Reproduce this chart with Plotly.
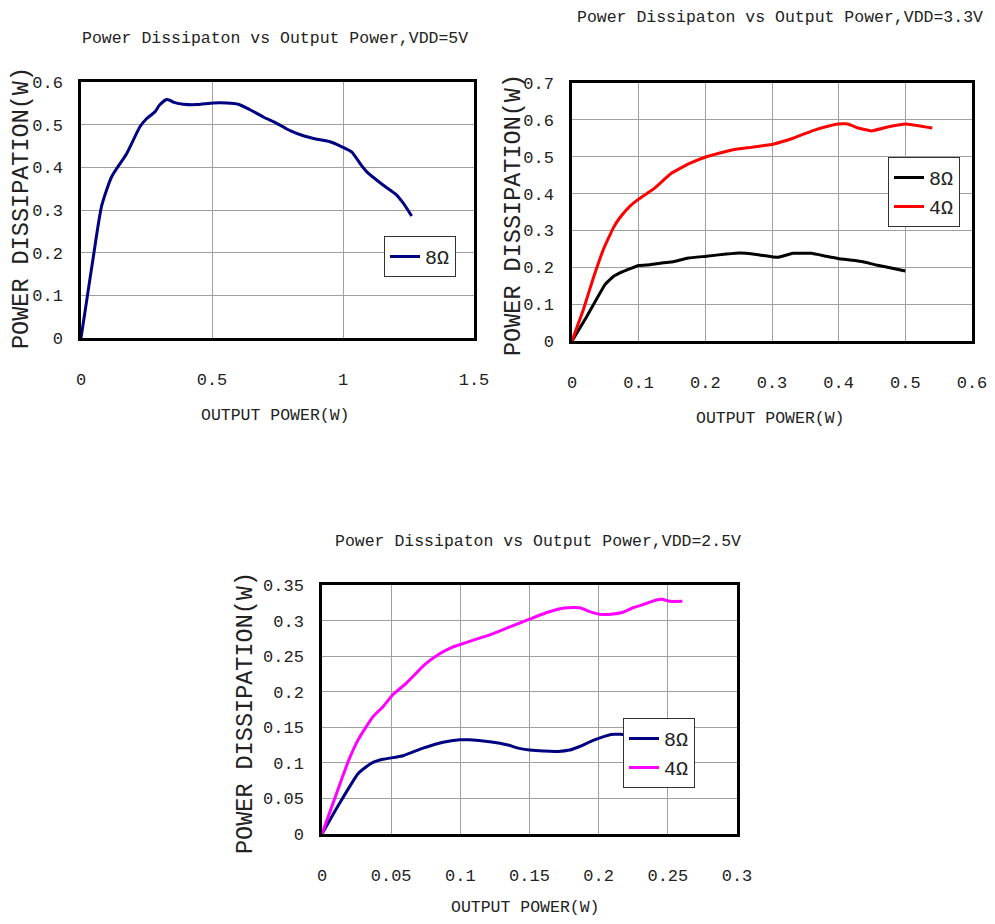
import plotly.graph_objects as go

# ---- Data: VDD = 5V ----
p1_8_x = [0, 0.024, 0.047, 0.079, 0.117, 0.174, 0.225, 0.25, 0.282, 0.30, 0.327, 0.34, 0.352, 0.39, 0.44,
          0.505, 0.556, 0.60, 0.645, 0.696, 0.747, 0.798, 0.849, 0.90, 0.95, 1.0, 1.033, 1.065, 1.09,
          1.154, 1.205, 1.23, 1.262]
p1_8_y = [0, 0.097, 0.19, 0.31, 0.378, 0.432, 0.495, 0.514, 0.53, 0.546, 0.559, 0.557, 0.553, 0.548, 0.547,
          0.551, 0.551, 0.548, 0.535, 0.518, 0.503, 0.486, 0.474, 0.466, 0.46, 0.447, 0.436, 0.409, 0.39,
          0.358, 0.335, 0.316, 0.286]

# ---- Data: VDD = 3.3V ----
p2_4_x = [0, 0.017, 0.032, 0.047, 0.062, 0.072, 0.087, 0.1, 0.122, 0.149, 0.1765, 0.2015, 0.2115, 0.2415,
          0.2715, 0.3015, 0.3315, 0.3615, 0.3865, 0.399, 0.414, 0.429, 0.449, 0.4765, 0.50, 0.5405]
p2_4_y = [0, 0.085, 0.171, 0.248, 0.307, 0.335, 0.366, 0.385, 0.412, 0.455, 0.482, 0.50, 0.505, 0.519,
          0.526, 0.534, 0.55, 0.571, 0.584, 0.589, 0.589, 0.578, 0.570, 0.582, 0.589, 0.578]
p2_8_x = [0, 0.022, 0.0495, 0.062, 0.077, 0.1, 0.117, 0.137, 0.152, 0.1745, 0.2015,
          0.2315, 0.2515, 0.2765, 0.3015, 0.3115, 0.3315, 0.359, 0.3815, 0.399, 0.4215, 0.4365, 0.4565,
          0.4715, 0.50]
p2_8_y = [0, 0.066, 0.153, 0.175, 0.189, 0.205, 0.207, 0.212, 0.215, 0.225, 0.230,
          0.236, 0.239, 0.235, 0.228, 0.228, 0.238, 0.238, 0.230, 0.224, 0.219, 0.215, 0.206,
          0.201, 0.19]

# ---- Data: VDD = 2.5V ----
p3_4_x = [0, 0.008, 0.014, 0.020, 0.026, 0.032, 0.0369, 0.0441, 0.0513, 0.061, 0.0742, 0.0839, 0.0935,
          0.0995, 0.1116, 0.1212, 0.1357, 0.150, 0.162, 0.1706, 0.1766, 0.1863, 0.1935, 0.2007, 0.209,
          0.2176, 0.2248, 0.2345, 0.2417, 0.2458, 0.2513, 0.2605]
p3_4_y = [0, 0.0435, 0.076, 0.107, 0.132, 0.151, 0.165, 0.179, 0.196, 0.212, 0.238, 0.252, 0.262,
          0.266, 0.274, 0.280, 0.291, 0.302, 0.311, 0.316, 0.318, 0.318, 0.3126, 0.309, 0.309,
          0.3117, 0.318, 0.324, 0.329, 0.330, 0.327, 0.327]
p3_8_x = [0, 0.0128, 0.026, 0.0296, 0.0369, 0.0441, 0.0586, 0.073, 0.0875, 0.0995, 0.1067, 0.1212,
          0.1345, 0.1417, 0.150, 0.160, 0.1706, 0.179, 0.1863, 0.196, 0.209, 0.2176, 0.225]
p3_8_y = [0, 0.0435, 0.0847, 0.091, 0.1006, 0.105, 0.110, 0.1207, 0.129, 0.1324, 0.1324, 0.1296,
          0.125, 0.1207, 0.118, 0.1165, 0.116, 0.118, 0.123, 0.1315, 0.140, 0.140, 0.140]

titles = ["Power Dissipaton vs Output Power,VDD=5V",
          "Power Dissipaton vs Output Power,VDD=3.3V",
          "Power Dissipaton vs Output Power,VDD=2.5V"]
xlabel = "OUTPUT POWER(W)"
ylabel = "POWER DISSIPATION(W)"

OFF = 8  # default page body margin
W, H = 995 - OFF, 924 - 2 * OFF
FONT = "Liberation Mono, monospace"

def px(x):
    return (x - OFF) / W

def py(y):
    return 1 - (y - OFF) / H

fig = go.Figure()

fig.add_trace(go.Scatter(x=p1_8_x, y=p1_8_y, mode="lines", name="8Ω",
                         line=dict(color="#000080", width=3, shape="spline", smoothing=0.6),
                         xaxis="x", yaxis="y", legend="legend"))
fig.add_trace(go.Scatter(x=p2_8_x, y=p2_8_y, mode="lines", name="8Ω",
                         line=dict(color="#000000", width=3, shape="spline", smoothing=0.3),
                         xaxis="x2", yaxis="y2", legend="legend2"))
fig.add_trace(go.Scatter(x=p2_4_x, y=p2_4_y, mode="lines", name="4Ω",
                         line=dict(color="#ff0000", width=3, shape="spline", smoothing=0.3),
                         xaxis="x2", yaxis="y2", legend="legend2"))
fig.add_trace(go.Scatter(x=p3_8_x, y=p3_8_y, mode="lines", name="8Ω",
                         line=dict(color="#000080", width=3, shape="spline", smoothing=0.6),
                         xaxis="x3", yaxis="y3", legend="legend3"))
fig.add_trace(go.Scatter(x=p3_4_x, y=p3_4_y, mode="lines", name="4Ω",
                         line=dict(color="#ff00ff", width=3, shape="spline", smoothing=0.6),
                         xaxis="x3", yaxis="y3", legend="legend3"))

axis_common = dict(showline=True, linecolor="black", linewidth=2.5, mirror=True,
                   showgrid=True, gridcolor="#a0a0a0", gridwidth=1, zeroline=False,
                   automargin=False,
                   ticks="", tickfont=dict(family=FONT, size=17, color="#222"))

# plot areas in pixels (reference coordinates)
boxes = [(81, 474, 82, 338), (572, 972, 83, 341), (322, 737, 585, 834)]
xr = [[0, 1.5], [0, 0.6], [0, 0.3]]
xd = [0.5, 0.1, 0.05]
yr = [[0, 0.6], [0, 0.7], [0, 0.35]]
yd = [0.1, 0.1, 0.05]

layout = dict(width=W, height=H, margin=dict(l=0, r=0, t=0, b=0, autoexpand=False),
              paper_bgcolor="white", plot_bgcolor="white", showlegend=True,
              font=dict(family=FONT, color="#222"))
for i in range(3):
    l, r, t, b = boxes[i]
    sx = "" if i == 0 else str(i + 1)
    layout["xaxis" + sx] = dict(axis_common, domain=[px(l), px(r)], range=xr[i], dtick=xd[i],
                                anchor="y" + sx, ticklabelstandoff=24, tick0=0)
    layout["yaxis" + sx] = dict(axis_common, domain=[py(b), py(t)], range=yr[i], dtick=yd[i],
                                anchor="x" + sx, ticklabelstandoff=12, tick0=0)

legend_common = dict(bgcolor="white", bordercolor="#333", borderwidth=1,
                     font=dict(family=FONT, size=20, color="#222"),
                     xanchor="left", yanchor="top", itemwidth=30, tracegroupgap=0)
layout["legend"] = dict(legend_common, x=px(384), y=py(236))
layout["legend2"] = dict(legend_common, x=px(888), y=py(157))
layout["legend3"] = dict(legend_common, x=px(623), y=py(718))

fig.update_layout(**layout)

ann = []
title_pos = [(275, 38), (780, 18), (538, 541)]
xlab_pos = [(275, 416), (770, 418), (525, 907)]
ylab_pos = [(22, 208), (513, 215), (245, 713)]
for i in range(3):
    ann.append(dict(text=titles[i], x=px(title_pos[i][0]), y=py(title_pos[i][1]),
                    xref="paper", yref="paper", showarrow=False,
                    xanchor="center", yanchor="middle",
                    font=dict(family=FONT, size=16.5, color="#222")))
    ann.append(dict(text=xlabel, x=px(xlab_pos[i][0]), y=py(xlab_pos[i][1]),
                    xref="paper", yref="paper", showarrow=False,
                    xanchor="center", yanchor="middle",
                    font=dict(family=FONT, size=16.5, color="#222")))
    ann.append(dict(text=ylabel, x=px(ylab_pos[i][0]), y=py(ylab_pos[i][1]),
                    xref="paper", yref="paper", showarrow=False, textangle=-90,
                    xanchor="center", yanchor="middle",
                    font=dict(family=FONT, size=23.5, color="#222")))
fig.update_layout(annotations=ann)

fig.write_html("out.html")
